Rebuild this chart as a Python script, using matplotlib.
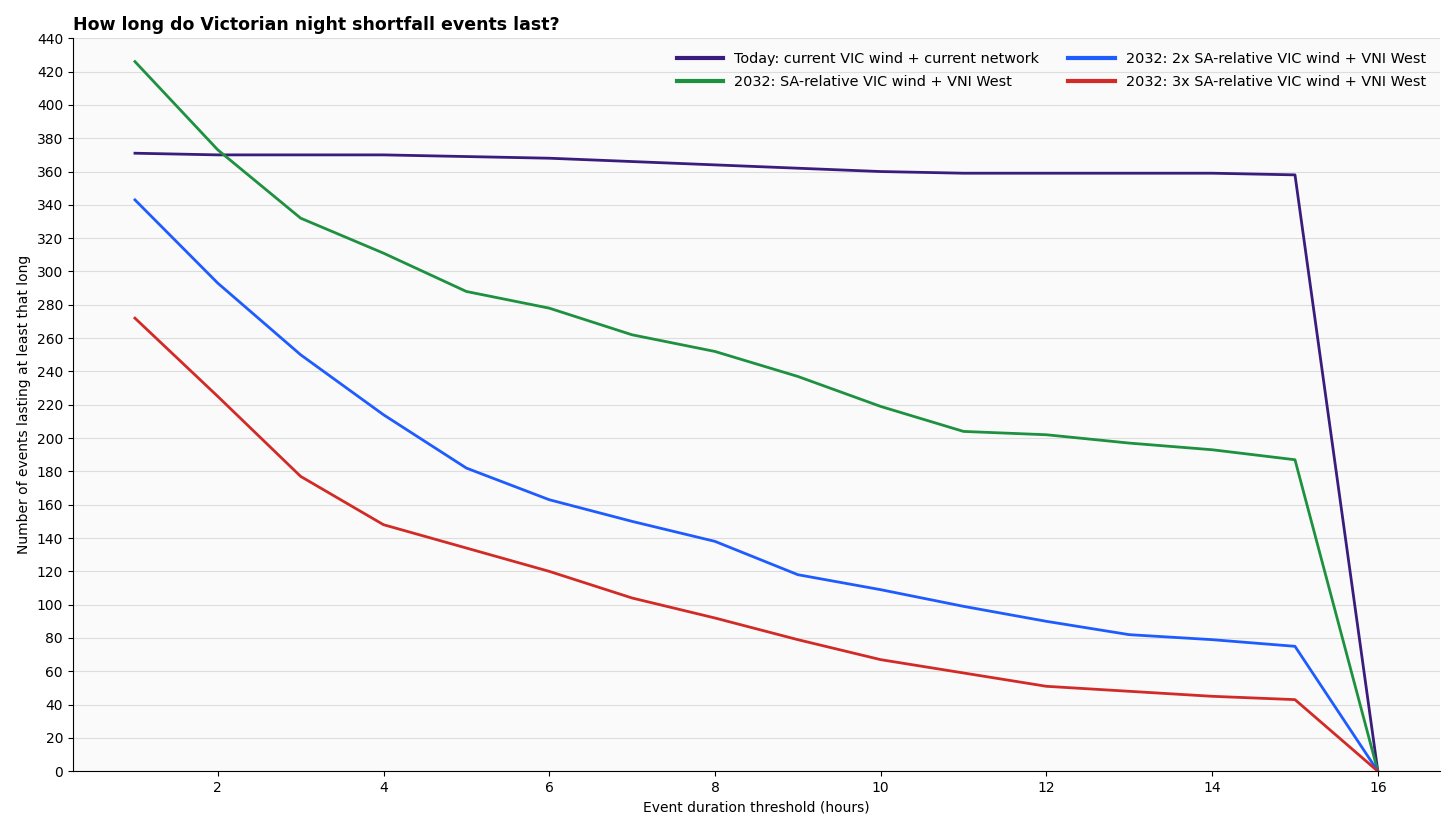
import matplotlib
matplotlib.use('Agg')
import matplotlib.pyplot as plt
import numpy as np

# event duration thresholds (hours)
hours = list(range(1, 17))

today = [371, 370, 370, 370, 369, 368, 366, 364, 362, 360, 359, 359, 359, 359, 358, 0]
sa_rel = [426, 373, 332, 311, 288, 278, 262, 252, 237, 219, 204, 202, 197, 193, 187, 0]
sa_rel_2x = [343, 293, 250, 214, 182, 163, 150, 138, 118, 109, 99, 90, 82, 79, 75, 0]
sa_rel_3x = [272, 225, 177, 148, 134, 120, 104, 92, 79, 67, 59, 51, 48, 45, 43, 0]

labels = ['Today: current VIC wind + current network',
          '2032: SA-relative VIC wind + VNI West',
          '2032: 2x SA-relative VIC wind + VNI West',
          '2032: 3x SA-relative VIC wind + VNI West']
colors = ['#3a1c7d', '#1e9140', '#1f5cff', '#d22b27']


def main():
	fig, ax = plt.subplots(figsize=(14.56, 8.32), dpi=100)
	fig.subplots_adjust(left=0.05, right=0.989, top=0.954, bottom=0.073)
	ax.set_facecolor('#fafafa')

	for ys, lab, c in zip([today, sa_rel, sa_rel_2x, sa_rel_3x], labels, colors):
		ax.plot(hours, ys, color=c, lw=2, label=lab)

	ax.set_ylim(0, 440)
	ax.set_yticks(np.arange(0, 441, 20))
	ax.grid(axis='y', color='#dddddd', lw=0.8)
	ax.set_axisbelow(True)
	ax.spines['top'].set_visible(False)
	ax.spines['right'].set_visible(False)

	ax.set_xlabel('Event duration threshold (hours)')
	ax.set_ylabel('Number of events lasting at least that long')
	ax.set_title('How long do Victorian night shortfall events last?', loc='left',
		fontsize=12.5, fontweight='bold', pad=6)

	leg = ax.legend(ncol=2, loc='upper right', frameon=False, handlelength=3.2,
		columnspacing=2.0, labelspacing=0.6, fontsize=10.4, borderaxespad=0.55)
	for h in leg.get_lines():
		h.set_linewidth(3)

	plt.savefig('out.png', dpi=100)

main()
